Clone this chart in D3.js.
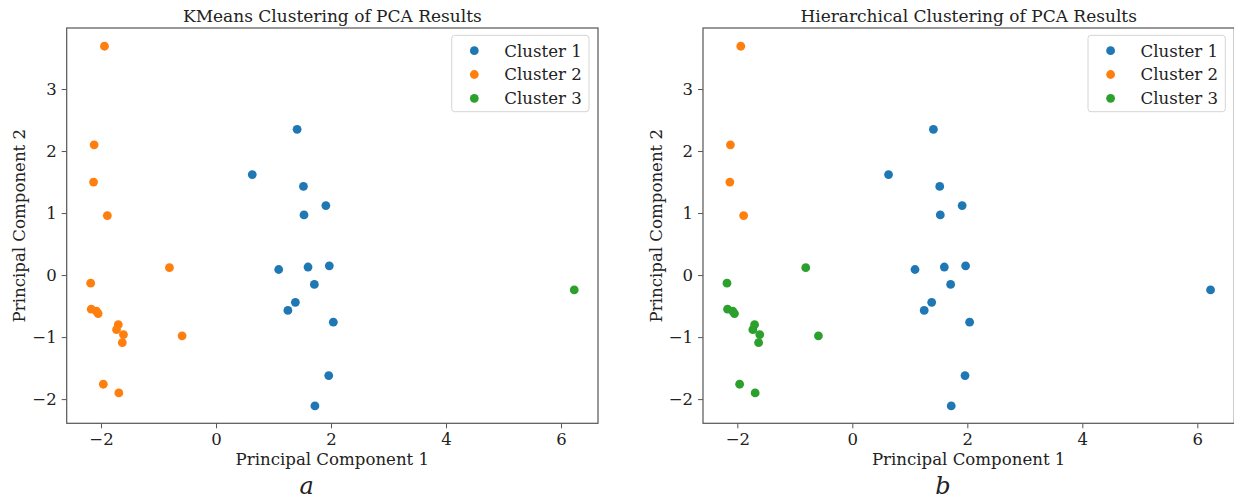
<!DOCTYPE html>
<html>
<head>
<meta charset="utf-8">
<script src="https://cdn.jsdelivr.net/npm/d3@7"></script>
<style>
  body { margin: 0; background: #fff; }
  svg { display: block; }
  text { font-family: "DejaVu Serif", serif; fill: #222; }
</style>
</head>
<body>
<script>
// PCA scores
var pc1 = [-1.94, -2.12, -2.13, -1.89, -0.81, -2.18, -2.17, -2.08, -2.05, -1.70, -1.73, -1.61, -1.63, -0.59, -1.96, -1.69,
           1.41, 0.63, 1.52, 1.91, 1.53, 1.09, 1.60, 1.97, 1.71, 1.38, 1.25, 2.04, 1.96, 1.72,
           6.23];
var pc2 = [3.69, 2.10, 1.50, 0.96, 0.12, -0.13, -0.55, -0.58, -0.62, -0.80, -0.88, -0.96, -1.09, -0.98, -1.76, -1.90,
           2.35, 1.62, 1.43, 1.12, 0.97, 0.09, 0.13, 0.15, -0.15, -0.44, -0.57, -0.76, -1.62, -2.11,
           -0.24];
var kmeansLabels = [2,2,2,2,2,2,2,2,2,2,2,2,2,2,2,2, 1,1,1,1,1,1,1,1,1,1,1,1,1,1, 3];
var hierLabels   = [2,2,2,2,3,3,3,3,3,3,3,3,3,3,3,3, 1,1,1,1,1,1,1,1,1,1,1,1,1,1, 1];

var clusterNames = ["Cluster 1", "Cluster 2", "Cluster 3"];
var clusterColors = ["#1f77b4", "#ff7f0e", "#2ca02c"];
var xTicks = [-2, 0, 2, 4, 6];
var yTicks = [-2, -1, 0, 1, 2, 3];

var panels = [
  {title: "KMeans Clustering of PCA Results", labels: kmeansLabels, caption: "a", left: 66.7},
  {title: "Hierarchical Clustering of PCA Results", labels: hierLabels, caption: "b", left: 703}
];

var W = 1234, H = 499;
var plotW = 531.3, plotTop = 28, plotBottom = 423.3;

var svg = d3.select("body").append("svg").attr("width", W).attr("height", H);

function fmt(d) { return d < 0 ? "\u2212" + Math.abs(d) : "" + d; }

panels.forEach(function(p) {
  var x = d3.scaleLinear().domain([-2.597, 6.643]).range([p.left, p.left + plotW]);
  var y = d3.scaleLinear().domain([-2.39, 3.984]).range([plotBottom, plotTop]);
  var g = svg.append("g");

  // points
  g.selectAll("circle.pt")
    .data(pc1.map(function(v, i) { return {x: v, y: pc2[i], c: p.labels[i]}; }))
    .enter().append("circle")
    .attr("class", "pt")
    .attr("cx", function(d) { return x(d.x); })
    .attr("cy", function(d) { return y(d.y); })
    .attr("r", 4.4)
    .attr("fill", function(d) { return clusterColors[d.c - 1]; });

  // axes
  var xAxis = d3.axisBottom(x).tickValues(xTicks).tickFormat(fmt).tickSize(5).tickPadding(5);
  var yAxis = d3.axisLeft(y).tickValues(yTicks).tickFormat(fmt).tickSize(5).tickPadding(5);
  var gx = g.append("g").attr("transform", "translate(0," + plotBottom + ")").call(xAxis);
  var gy = g.append("g").attr("transform", "translate(" + p.left + ",0)").call(yAxis);
  [gx, gy].forEach(function(a) {
    a.select(".domain").remove();
    a.selectAll(".tick line").attr("stroke", "#555").attr("stroke-width", 1);
    a.selectAll(".tick text").attr("font-size", 16.5).attr("font-family", "DejaVu Serif").attr("fill", "#222");
  });

  // frame
  g.append("rect")
    .attr("x", p.left).attr("y", plotTop)
    .attr("width", plotW).attr("height", plotBottom - plotTop)
    .attr("fill", "none").attr("stroke", "#555").attr("stroke-width", 1.2);

  // title and labels
  g.append("text").attr("x", p.left + plotW / 2).attr("y", 22)
    .attr("text-anchor", "middle").attr("font-size", 17).text(p.title);
  g.append("text").attr("x", p.left + plotW / 2).attr("y", 465)
    .attr("text-anchor", "middle").attr("font-size", 16.6).text("Principal Component 1");
  g.append("text")
    .attr("transform", "translate(" + (p.left - 41.5) + "," + ((plotTop + plotBottom) / 2) + ") rotate(-90)")
    .attr("text-anchor", "middle").attr("font-size", 16.6).text("Principal Component 2");

  // legend
  var lx = p.left + plotW - 146.3, ly = 35.3;
  g.append("rect").attr("x", lx).attr("y", ly).attr("width", 137.3).attr("height", 76.4)
    .attr("rx", 3).attr("fill", "#fff").attr("fill-opacity", 0.8)
    .attr("stroke", "#d4d4d4").attr("stroke-width", 1);
  var item = g.selectAll("g.leg").data(clusterNames).enter().append("g").attr("class", "leg")
    .attr("transform", function(d, i) { return "translate(" + lx + "," + (ly + 15.4 + i * 23.8) + ")"; });
  item.append("circle").attr("cx", 22.6).attr("cy", 0).attr("r", 4.4)
    .attr("fill", function(d, i) { return clusterColors[i]; });
  item.append("text").attr("x", 52.6).attr("y", 5.8).attr("font-size", 16.6).text(function(d) { return d; });

  // caption
  g.append("text").attr("x", p.left + 240).attr("y", 494)
    .attr("text-anchor", "middle").attr("font-size", 24)
    .attr("font-family", "Noto Sans").attr("font-style", "italic").text(p.caption);
});
</script>
</body>
</html>
